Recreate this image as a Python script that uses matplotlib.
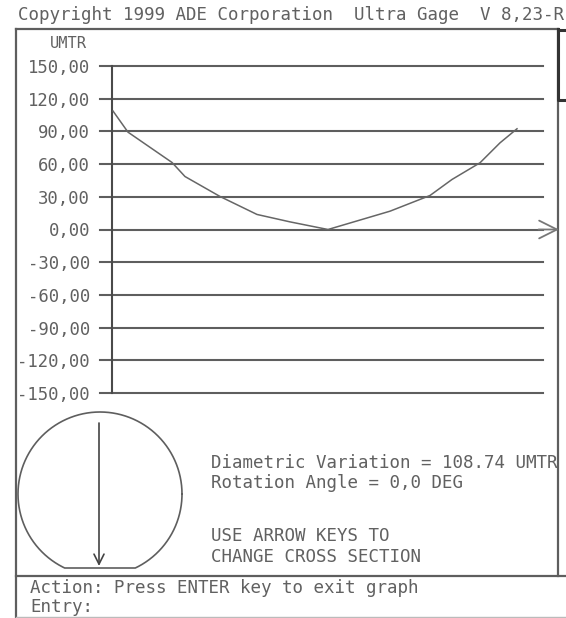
import numpy as np
import matplotlib
matplotlib.use("Agg")
import matplotlib.pyplot as plt
from matplotlib.ticker import FuncFormatter

# ---- data ----
positions = [1, 16, 60, 73, 108, 145, 178, 216, 278, 318, 340, 368, 388, 405]
deviation = [108.7, 89.3, 61.5, 48.6, 30.3, 13.8, 7.0, 0.0, 16.8, 31.2, 45.9, 61.2, 79.5, 92.4]
y_ticks = [150, 120, 90, 60, 30, 0, -30, -60, -90, -120, -150]
unit_label = "UMTR"
header = "Copyright 1999 ADE Corporation  Ultra Gage  V 8,23-R"
info_lines = ["Diametric Variation = 108.74 UMTR", "Rotation Angle = 0,0 DEG"]
hint_lines = ["USE ARROW KEYS TO", "CHANGE CROSS SECTION"]
action_lines = ["Action: Press ENTER key to exit graph", "Entry:"]

W, H = 566, 618
FONT = "DejaVu Sans Mono"
FS = 12.6
FS_TICK = 12.4
TXT = "#616161"
LINE = "#5e5e5e"

fig = plt.figure(figsize=(W / 100, H / 100), dpi=100)
fig.patch.set_facecolor("white")

# background axes in pixel coordinates for the screen frame / decorations
bg = fig.add_axes([0, 0, 1, 1])
bg.set_xlim(0, W)
bg.set_ylim(H, 0)
bg.axis("off")

# screen frame
bg.plot([16, 16], [29, H], color=LINE, lw=1.6)
bg.plot([16, 558], [29, 29], color=LINE, lw=1.6)
bg.plot([558, 558], [29, 576], color=LINE, lw=1.6)
bg.plot([16, W], [576, 576], color=LINE, lw=1.6)
bg.plot([16, W], [617, 617], color="#bbbbbb", lw=1.0)
# scroll marker at top right
bg.plot([558, 558, W], [29, 100, 100], color="#333333", lw=2.2)
bg.plot([558, W], [30, 30], color="#333333", lw=2.2)

# texts
bg.text(18, 15, header, fontsize=FS, family=FONT, color=TXT, va="center", ha="left")
bg.text(50, 43, unit_label, fontsize=FS - 1.5, family=FONT, color=TXT, va="center", ha="left")
for s, yy in zip(info_lines, [463, 483]):
    bg.text(211, yy, s, fontsize=FS, family=FONT, color=TXT, va="center", ha="left")
for s, yy in zip(hint_lines, [536, 557]):
    bg.text(211, yy, s, fontsize=FS, family=FONT, color=TXT, va="center", ha="left")
for s, yy in zip(action_lines, [588, 607]):
    bg.text(30, yy, s, fontsize=FS, family=FONT, color=TXT, va="center", ha="left")

# wafer outline with flat
cx, cy, r, flat = 100, 494, 82, 568
t = np.linspace(0, 2 * np.pi, 721)
xs = cx + r * np.cos(t)
ys = cy - r * np.sin(t)
ys = np.minimum(ys, flat)
bg.plot(xs, ys, color=LINE, lw=1.2)
bg.annotate("", xy=(99, 566), xytext=(99, 423),
            arrowprops=dict(arrowstyle="->", color="#444444", lw=1.2,
                            mutation_scale=18, shrinkA=0, shrinkB=0))

# main chart axes
left, right, top, bottom = 100, 543, 66, 393
ax = fig.add_axes([left / W, (H - bottom) / H, (right - left) / W, (bottom - top) / H])
ax.set_facecolor("none")
ax.set_xlim(-12, 431)
ax.set_ylim(-150, 150)
for sp in ax.spines.values():
    sp.set_visible(False)
ax.set_xticks([])
ax.set_yticks(y_ticks)
ax.yaxis.set_major_formatter(FuncFormatter(lambda v, p: f"{v:.2f}".replace(".", ",")))
ax.tick_params(axis="y", length=0, pad=7.2, labelsize=FS_TICK, labelcolor=TXT)
for lab in ax.get_yticklabels():
    lab.set_family(FONT)
for v in y_ticks:
    ax.axhline(v, color=LINE, lw=1.5, zorder=1, clip_on=False)
ax.axvline(0, color="#4a4a4a", lw=1.5, zorder=2, clip_on=False)

# zero-line arrow extension
ax.annotate("", xy=(1.036, 0), xytext=(0.99, 0), xycoords=ax.get_yaxis_transform(),
            textcoords=ax.get_yaxis_transform(),
            arrowprops=dict(arrowstyle="->", color="#777777", lw=1.3,
                            mutation_scale=32, shrinkA=0, shrinkB=0), annotation_clip=False)

ax.plot(positions, deviation, color="#666666", lw=1.1, zorder=3)

fig.savefig("out.png", dpi=100, facecolor="white")
